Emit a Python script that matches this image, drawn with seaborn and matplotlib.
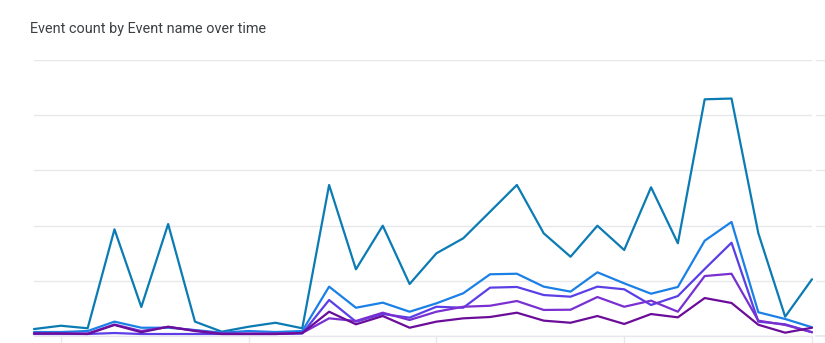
import numpy as np
import pandas as pd
import matplotlib
matplotlib.use("Agg")
import matplotlib.pyplot as plt
import seaborn as sns

# ---- data (one grid step = 50) ----
days = list(range(30))
event_names = ["event_1", "event_2", "event_3", "event_4", "event_5"]
event_1 = [6.3, 9.3, 7.0, 96.6, 26.3, 101.4, 13.0, 3.9, 8.4, 12.0, 7.0, 136.8, 60.4, 99.9, 47.1,
           74.9, 88.5, 112.6, 136.8, 93.0, 71.8, 99.9, 77.9, 134.7, 84.0, 214.4, 215.1, 93.0, 17.5, 51.4]
event_2 = [3.6, 3.6, 4.5, 13.0, 7.5, 7.5, 5.4, 3.0, 4.5, 3.6, 4.5, 44.7, 25.6, 30.2, 22.0,
           29.6, 38.7, 55.9, 56.4, 44.7, 40.2, 57.7, 47.7, 38.3, 44.4, 86.3, 103.3, 21.5, 15.4, 7.9]
event_3 = [1.8, 1.8, 1.8, 2.7, 1.8, 1.8, 1.8, 1.8, 1.8, 1.8, 2.3, 32.6, 13.0, 19.9, 16.6,
           26.5, 25.6, 43.8, 44.4, 37.1, 35.6, 44.7, 42.3, 28.1, 36.2, 60.7, 84.5, 13.0, 10.6, 3.4]
event_4 = [2.3, 2.3, 2.3, 10.4, 4.5, 8.2, 5.0, 2.3, 2.3, 2.3, 2.7, 16.0, 13.6, 21.1, 14.5,
           22.0, 26.5, 27.4, 31.7, 23.6, 23.8, 35.3, 26.5, 32.0, 22.0, 54.3, 56.4, 13.9, 10.0, 3.4]
event_5 = [2.3, 2.3, 1.8, 10.0, 3.4, 8.4, 4.5, 1.8, 1.8, 1.8, 2.7, 22.0, 10.6, 18.1, 7.5,
           13.0, 16.0, 17.2, 21.1, 13.9, 12.0, 18.1, 10.9, 19.9, 16.9, 34.4, 29.9, 10.2, 3.0, 7.5]
tick_days = [1, 8, 15, 22, 29]
y_ticks = [0, 50, 100, 150, 200, 250]
title = "Event count by Event name over time"

series = [event_1, event_2, event_3, event_4, event_5]
df = pd.concat(
    [pd.DataFrame({"day": days, "count": vals, "event": name})
     for name, vals in zip(event_names, series)],
    ignore_index=True,
)

palette = ["#0b7bb3", "#1a80e6", "#5b3fe6", "#7a30d0", "#6b0d99"]
grid_c = "#e6e8eb"

sns.set_theme(style="white")
plt.rcParams["font.family"] = ["Roboto", "DejaVu Sans"]

W, H = 825, 343
fig = plt.figure(figsize=(W / 100, H / 100), dpi=100)
left, right, top, bottom = 34, 812, 60, 336
ax = fig.add_axes([left / W, (H - bottom) / H, (right - left) / W, (bottom - top) / H])

sns.lineplot(data=df, x="day", y="count", hue="event", palette=palette,
             linewidth=1.6, legend=False, ax=ax, clip_on=False)

ax.set_xlim(0, 29)
ax.set_ylim(0, 250)
ax.set_yticks(y_ticks)
ax.set_xticks(tick_days)
ax.set_xticklabels([])
ax.set_yticklabels([])
ax.set_xlabel("")
ax.set_ylabel("")
ax.grid(axis="y", color=grid_c, linewidth=1.0)
ax.set_axisbelow(True)
for s in ["top", "right", "left"]:
    ax.spines[s].set_visible(False)
ax.spines["bottom"].set_color(grid_c)
ax.spines["bottom"].set_linewidth(1.0)
ax.tick_params(axis="x", direction="out", length=6, width=1, color=grid_c, bottom=True)
ax.tick_params(axis="y", length=0)

# small grid stubs on the right edge
ax2 = fig.add_axes([816 / W, (H - bottom) / H, (W - 816) / W, (bottom - top) / H])
ax2.set_ylim(0, 250)
ax2.set_yticks(y_ticks)
ax2.set_xticks([])
ax2.set_yticklabels([])
ax2.grid(axis="y", color=grid_c, linewidth=1.0)
for s in ["top", "right", "left"]:
    ax2.spines[s].set_visible(False)
ax2.spines["bottom"].set_color(grid_c)
ax2.tick_params(axis="y", length=0)
ax2.set_facecolor("none")

fig.text(30 / W, 1 - 29 / H, title, fontsize=10.4, color="#3c4043", va="center", ha="left")

fig.savefig("out.png", dpi=100)
